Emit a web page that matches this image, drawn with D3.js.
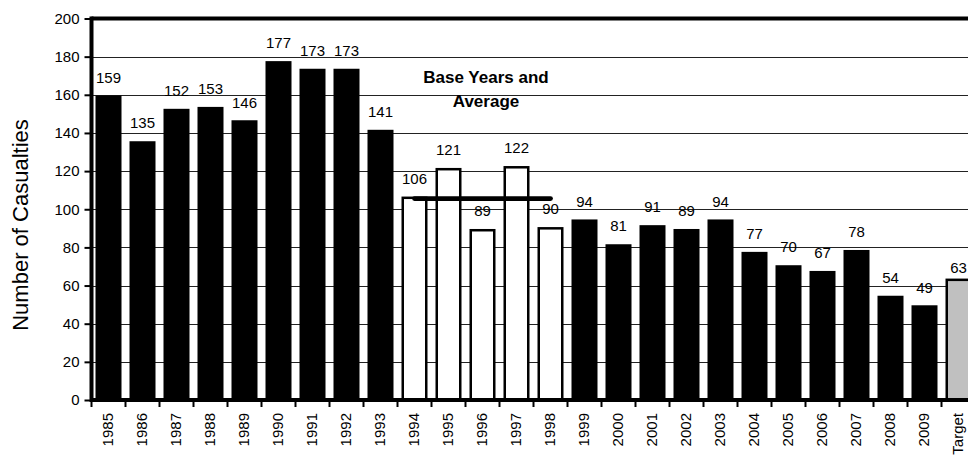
<!DOCTYPE html>
<html>
<head>
<meta charset="utf-8">
<script src="https://cdn.jsdelivr.net/npm/d3@7"></script>
<style>
  html, body { margin: 0; background: #fff; overflow: hidden; }
  svg { display: block; overflow: hidden; font-family: "Liberation Sans", Arial, sans-serif; }
</style>
</head>
<body>
<svg id="chart" width="968" height="457"></svg>
<script>
const categories = ["1985", "1986", "1987", "1988", "1989", "1990", "1991", "1992", "1993",
  "1994", "1995", "1996", "1997", "1998", "1999", "2000", "2001", "2002", "2003",
  "2004", "2005", "2006", "2007", "2008", "2009", "Target"];
const casualties = [159, 135, 152, 153, 146, 177, 173, 173, 141,
  106, 121, 89, 122, 90, 94, 81, 91, 89, 94,
  77, 70, 67, 78, 54, 49, 63];
const baseYears = ["1994", "1995", "1996", "1997", "1998"];
const targetCategory = "Target";
const yTicks = [0, 20, 40, 60, 80, 100, 120, 140, 160, 180, 200];

const data = categories.map((c, i) => ({ cat: c, value: casualties[i] }));
const baseAverage = d3.mean(data.filter((d) => baseYears.includes(d.cat)), (d) => d.value);

const svg = d3.select("#chart");
const W = 968;
const left = 91.5, step = 34;
const x = d3.scaleBand()
  .domain(categories)
  .range([left, left + step * categories.length])
  .paddingInner(0.25)
  .paddingOuter(0.125);
const y = d3.scaleLinear().domain([0, 200]).range([400, 18.5]);

// chart is cut off at the right edge, like the original
svg.append("clipPath").attr("id", "clip")
  .append("rect").attr("x", 0).attr("y", 0).attr("width", W).attr("height", 457);
const g = svg.append("g").attr("clip-path", "url(#clip)");

// gridlines
g.append("g")
  .attr("class", "y axis-grid")
  .selectAll("line")
  .data(yTicks.filter((t) => t > 0 && t < 200))
  .join("line")
  .attr("x1", left).attr("x2", W)
  .attr("y1", (d) => Math.round(y(d)) + 0.5).attr("y2", (d) => Math.round(y(d)) + 0.5)
  .attr("stroke", "#222").attr("stroke-width", 1);

// bars
const fillFor = (d) => d.cat === targetCategory ? "#c0c0c0" : baseYears.includes(d.cat) ? "#fff" : "#000";
g.append("g")
  .selectAll("rect")
  .data(data)
  .join("rect")
  .attr("x", (d) => x(d.cat) + 1)
  .attr("y", (d) => y(d.value))
  .attr("width", x.bandwidth() - 2)
  .attr("height", (d) => y(0) - y(d.value))
  .attr("fill", fillFor)
  .attr("stroke", "#000")
  .attr("stroke-width", 2.5);

// average line for base years
const half = x.bandwidth() / 2;
g.append("line")
  .attr("x1", x(baseYears[0]) + half)
  .attr("x2", x(baseYears[baseYears.length - 1]) + half)
  .attr("y1", y(baseAverage)).attr("y2", y(baseAverage))
  .attr("stroke", "#000").attr("stroke-width", 4.8)
  .attr("stroke-linecap", "round");

// value labels
g.append("g")
  .selectAll("text")
  .data(data)
  .join("text")
  .attr("x", (d) => x(d.cat) + half)
  .attr("y", (d) => y(d.value) - (d.cat === targetCategory ? 7 : 14))
  .attr("text-anchor", "middle")
  .attr("font-size", 15)
  .attr("fill", "#000")
  .text((d) => d.value);

// base years annotation
const note = g.append("text")
  .attr("x", 486).attr("y", 83)
  .attr("text-anchor", "middle")
  .attr("font-size", 17)
  .attr("font-weight", "bold");
note.append("tspan").attr("x", 486).text("Base Years and");
note.append("tspan").attr("x", 486).attr("dy", 24).text("Average");

// y axis
const yAxis = g.append("g")
  .attr("transform", `translate(${left},0)`)
  .call(d3.axisLeft(y).tickValues(yTicks).tickSize(7).tickPadding(5));
yAxis.select(".domain").remove();
yAxis.selectAll(".tick line").attr("stroke", "#000").attr("stroke-width", 2);
yAxis.selectAll(".tick text").attr("font-size", 15).attr("fill", "#000")
  .attr("font-family", "Liberation Sans, Arial, sans-serif");

// x axis boundary ticks
g.append("g")
  .selectAll("line")
  .data(d3.range(categories.length + 1))
  .join("line")
  .attr("x1", (i) => left + i * step).attr("x2", (i) => left + i * step)
  .attr("y1", y(0)).attr("y2", y(0) + 7)
  .attr("stroke", "#000").attr("stroke-width", 2);

// x axis labels
g.append("g")
  .selectAll("text")
  .data(categories)
  .join("text")
  .attr("transform", (d) => `translate(${x(d) + half - 1},413) rotate(-90)`)
  .attr("text-anchor", "end")
  .attr("dominant-baseline", "central")
  .attr("font-size", 15)
  .text((d) => d);

// plot frame: top, left, bottom (right side runs off the page)
const frame = [
  [left, y(200), W, y(200)],
  [left, y(200) - 2, left, y(0) + 2],
  [left, y(0), W, y(0)],
];
g.append("g")
  .selectAll("line")
  .data(frame)
  .join("line")
  .attr("x1", (d) => d[0]).attr("y1", (d) => d[1])
  .attr("x2", (d) => d[2]).attr("y2", (d) => d[3])
  .attr("stroke", "#000").attr("stroke-width", 4);

// y axis title
g.append("text")
  .attr("transform", "translate(28,225) rotate(-90)")
  .attr("text-anchor", "middle")
  .attr("font-size", 22)
  .text("Number of Casualties");
</script>
</body>
</html>
